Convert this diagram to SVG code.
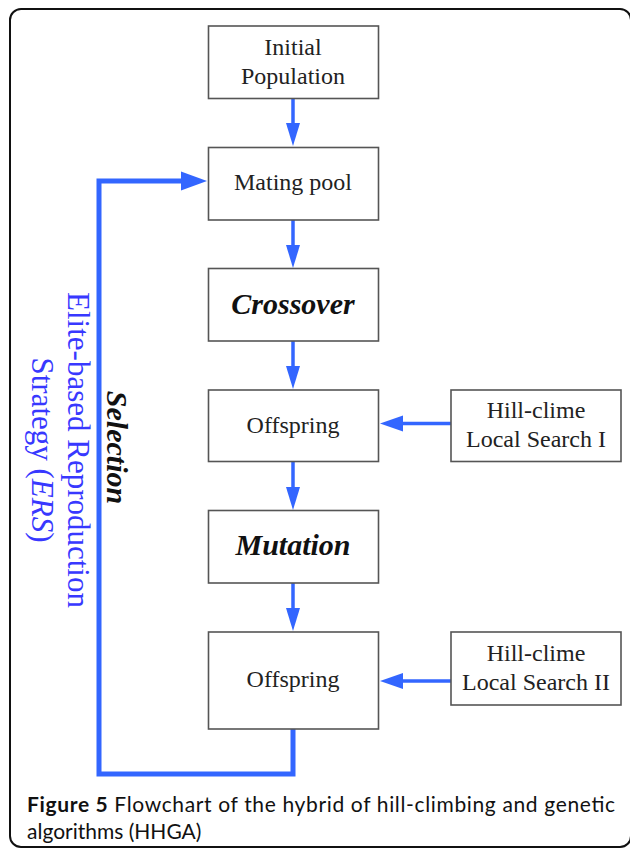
<svg xmlns="http://www.w3.org/2000/svg" width="630" height="849" viewBox="0 0 630 849">
<style>
.box{fill:#fff;stroke:#555;stroke-width:1.6}
.t{font-family:"Liberation Serif","Times New Roman",serif;font-size:24px;fill:#222;text-anchor:middle}
.bi{font-family:"Liberation Serif","Times New Roman",serif;font-size:30px;font-weight:bold;font-style:italic;fill:#111;text-anchor:middle}
.bt{font-family:"Liberation Serif","Times New Roman",serif;font-size:31px;fill:#3838ff;text-anchor:middle}
.cap{font-family:Lato,"Open Sans",sans-serif;font-size:21px;fill:#111}
.ln{stroke:#3366ff;stroke-width:3.5;fill:none}
.loop{stroke:#3366ff;stroke-width:5;fill:none;stroke-linejoin:miter}
.ah{fill:#3366ff}
</style>
<rect x="10" y="9" width="621" height="838" rx="11" fill="#fff" stroke="#111" stroke-width="2"/>
<g id="connectors">
<line class="ln" x1="293" y1="98" x2="293" y2="125"/>
<polygon class="ah" points="286,123 300,123 293,146"/>
<line class="ln" x1="293" y1="220" x2="293" y2="247"/>
<polygon class="ah" points="286,245 300,245 293,268"/>
<line class="ln" x1="293" y1="341" x2="293" y2="368"/>
<polygon class="ah" points="286,366 300,366 293,389"/>
<line class="ln" x1="293" y1="462" x2="293" y2="489"/>
<polygon class="ah" points="286,487 300,487 293,510"/>
<line class="ln" x1="293" y1="583" x2="293" y2="610"/>
<polygon class="ah" points="286,608 300,608 293,631"/>
<line class="ln" x1="451" y1="423.5" x2="400" y2="423.5"/>
<polygon class="ah" points="403,415.5 403,431.5 380,423.5"/>
<line class="ln" x1="451" y1="681" x2="400" y2="681"/>
<polygon class="ah" points="403,673 403,689 380,681"/>
<polyline class="loop" points="293,729 293,774 99,774 99,181 184,181"/>
<polygon class="ah" points="181,171.5 181,190.5 207,181"/>
</g>
<g id="initial"><rect class="box" x="208.5" y="26" width="170" height="72.5"/><text class="t" x="293" y="55">Initial</text><text class="t" x="293" y="83.5">Population</text></g>
<g id="mating"><rect class="box" x="208.5" y="147.5" width="170" height="72.5"/><text class="t" x="293" y="190">Mating pool</text></g>
<g id="crossover"><rect class="box" x="208.5" y="268.5" width="170" height="72.5"/><text class="bi" x="293" y="313.5">Crossover</text></g>
<g id="offspring1"><rect class="box" x="208.5" y="390" width="170" height="71.5"/><text class="t" x="293" y="433">Offspring</text></g>
<g id="hill1"><rect class="box" x="451" y="390" width="170" height="71.5"/><text class="t" x="536" y="418">Hill-clime</text><text class="t" x="536" y="447">Local Search I</text></g>
<g id="mutation"><rect class="box" x="208.5" y="510.5" width="170" height="72.5"/><text class="bi" x="293" y="555">Mutation</text></g>
<g id="offspring2"><rect class="box" x="208.5" y="632" width="170" height="97"/><text class="t" x="293" y="687">Offspring</text></g>
<g id="hill2"><rect class="box" x="451" y="632" width="170" height="73"/><text class="t" x="536" y="661">Hill-clime</text><text class="t" x="536" y="690">Local Search II</text></g>
<g id="labels">
<text class="bi" transform="translate(107,447.5) rotate(90)" x="0" y="0">Selection</text>
<text class="bt" transform="translate(68,450) rotate(90)" x="0" y="0">Elite-based Reproduction</text>
<text class="bt" transform="translate(68,450) rotate(90)" x="0" y="36">Strategy (<tspan font-style="italic">ERS</tspan>)</text>
</g>
<g id="caption">
<text class="cap" x="27" y="812" textLength="588" lengthAdjust="spacing"><tspan font-weight="bold">Figure 5</tspan> Flowchart of the hybrid of hill-climbing and genetic</text>
<text class="cap" x="27" y="839">algorithms (HHGA)</text>
</g>
</svg>
